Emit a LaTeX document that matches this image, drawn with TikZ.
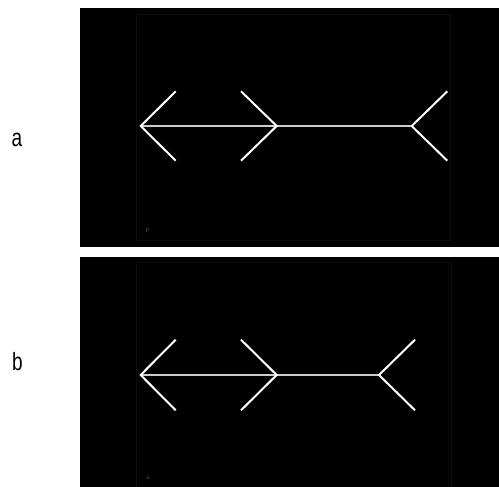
\documentclass[tikz,border=0pt]{standalone}
\usepackage{fontspec}
\setmainfont{Liberation Sans}
\begin{document}
\begin{tikzpicture}[x=1pt,y=-1pt,
  panel/.style={fill=black},
  frame/.style={draw=black!95!white,line width=0.5pt},
  arm/.style={draw=white,line width=2pt},
  shaft/.style={draw=black!20!white,line width=1.2pt},
  lbl/.style={font=\fontsize{25}{25}\selectfont,xscale=0.76,inner sep=0pt,anchor=base},
  tiny/.style={font=\fontsize{6}{6}\selectfont,text=black!65!white,inner sep=0pt}]
\useasboundingbox (0,0) rectangle (499,487);
\fill[white] (0,0) rectangle (499,487);
% panel a
\fill[panel] (80,8) rectangle (499,246.7);
\draw[frame] (136,14.7) rectangle (450,240);
\draw[shaft] (140.7,126) -- (411.7,126);
\draw[arm] (175.7,91.3) -- (140.7,126) -- (175.7,160.7);
\draw[arm] (241,91.3) -- (276.7,126) -- (241,160.7);
\draw[arm] (447.3,91.3) -- (411.7,126) -- (447.3,160.7);
\node[tiny] (fa) at (148,230) {F};
\node[lbl] (la) at (17,147) {a};
% panel b
\fill[panel] (80,256.7) rectangle (499,487);
\draw[frame] (136,262.7) rectangle (451.7,488);
\draw[shaft] (140.7,375) -- (379,375);
\draw[arm] (175.7,339.7) -- (140.7,375) -- (175.7,410.3);
\draw[arm] (241,339.7) -- (276.7,375) -- (241,410.3);
\draw[arm] (415,339.7) -- (379,375) -- (415,410.3);
\node[tiny] (fb) at (148,478) {u};
\node[lbl] (lb) at (17.5,370) {b};
\end{tikzpicture}
\end{document}
